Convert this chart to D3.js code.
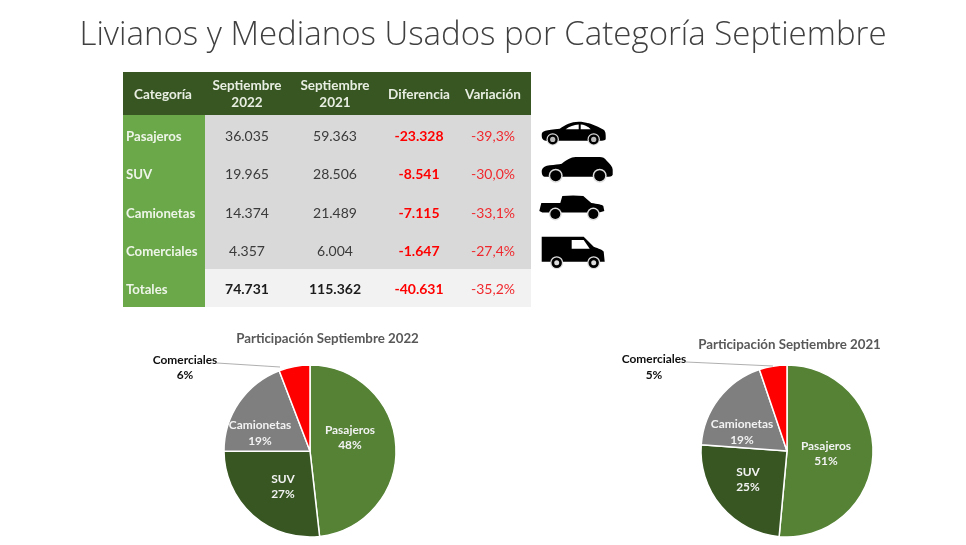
<!DOCTYPE html>
<html><head><meta charset="utf-8">
<script src="https://cdn.jsdelivr.net/npm/d3@7/dist/d3.min.js"></script>
<style>html,body{margin:0;padding:0;background:#fff}svg{display:block}text{font-family:Lato,"Open Sans",sans-serif}</style>
</head><body><svg id="c" width="966" height="545"></svg>
<script>
const titleText = "Livianos y Medianos Usados por Categoría Septiembre";
const categories = ["Pasajeros","SUV","Camionetas","Comerciales"];
const values2022 = [36035,19965,14374,4357];
const values2021 = [59363,28506,21489,6004];
const labels2022 = ["36.035","19.965","14.374","4.357","74.731"];
const labels2021 = ["59.363","28.506","21.489","6.004","115.362"];
const diffLabels = ["-23.328","-8.541","-7.115","-1.647","-40.631"];
const varLabels = ["-39,3%","-30,0%","-33,1%","-27,4%","-35,2%"];
const pct2022 = ["48%","27%","19%","6%"];
const pct2021 = ["51%","25%","19%","5%"];
const rowNames = [...categories,"Totales"];
const headers = [["Categoría"],["Septiembre","2022"],["Septiembre","2021"],["Diferencia"],["Variación"]];
const pieColors = ["#548235","#375623","#7f7f7f","#ff0000"];

const svg = d3.select("#c");
const blur = svg.append("defs").append("filter").attr("id","soft");
blur.append("feGaussianBlur").attr("stdDeviation",0.45);
const root = svg.append("g").attr("filter","url(#soft)");

root.append("text").attr("x",483).attr("y",45).attr("text-anchor","middle")
  .attr("font-size",33).attr("font-weight",300).attr("fill","#404040")
  .style("font-family","'Open Sans',sans-serif").text(titleText);

// table
const colX = d3.scaleOrdinal().domain([0,1,2,3,4]).range([163,247,335,419,493]);
const rowY = d3.scaleBand().domain(rowNames).range([117,309]);
const T = root.append("g");
T.append("rect").attr("x",123).attr("y",72).attr("width",408).attr("height",43).attr("fill","#385723");
T.append("rect").attr("x",123).attr("y",115).attr("width",82).attr("height",192).attr("fill","#6aa84a");
T.append("rect").attr("x",205).attr("y",115).attr("width",326).attr("height",154).attr("fill","#d9d9d9");
T.append("rect").attr("x",205).attr("y",269).attr("width",326).attr("height",38).attr("fill","#f2f2f2");

headers.forEach((h,i)=>{
  h.forEach((s,j)=>{
    T.append("text").attr("x",colX(i)).attr("y",94+(j-(h.length-1)/2)*17.5+4.5)
     .attr("text-anchor","middle").attr("font-size",13.5).attr("font-weight",700).attr("fill","#e8eee2").text(s);
  });
});
rowNames.forEach((r,i)=>{
  const y=rowY(r)+rowY.bandwidth()/2+4.5, tot=i===4;
  T.append("text").attr("x",126).attr("y",y).attr("font-size",13.2).attr("font-weight",700).attr("fill","#eef5e8").text(r);
  [[1,labels2022],[2,labels2021]].forEach(([c,a])=>{
    T.append("text").attr("x",colX(c)).attr("y",y).attr("text-anchor","middle").attr("font-size",14)
     .attr("font-weight",tot?700:400).attr("fill",tot?"#1a1a1a":"#3a3a3a").text(a[i]);
  });
  T.append("text").attr("x",colX(3)).attr("y",y).attr("text-anchor","middle").attr("font-size",14).attr("font-weight",700).attr("fill","#ff0000").text(diffLabels[i]);
  T.append("text").attr("x",colX(4)).attr("y",y).attr("text-anchor","middle").attr("font-size",14).attr("fill","#f0282d").text(varLabels[i]);
});

// vehicle icons (local drawing coordinates)
function wheels(g,xs,y,ring,r,hub,hubFill){
  xs.forEach(x=>{
    g.append("circle").attr("cx",x).attr("cy",y).attr("r",ring).attr("fill","#ddd");
    g.append("circle").attr("cx",x).attr("cy",y).attr("r",r).attr("fill","#000");
    if(hub) g.append("circle").attr("cx",x).attr("cy",y).attr("r",hub).attr("fill",hubFill);
  });
}
const sedan=root.append("g").attr("transform","translate(541.7,121.7)");
sedan.append("path").attr("d","M0,13 C0,9 4,8.5 18,7 C24,3 29,0 37,0 C44,0 52,3 60,7 C63,8 64,10 64,14 L64,17 C64,19 60,19 56,19 L6,19 C1,19 0,17 0,13Z");
sedan.append("path").attr("d","M24,7.5 C28,4.5 32,3 37,2.7 L37,7.5Z M39,2.7 C43,3 46,4.5 49,7.5 L39,7.5Z").attr("fill","#fff");
wheels(sedan,[11,52],17.7,6.2,5,2.6,"#bbb");
const suv=root.append("g").attr("transform","translate(541.7,156.7)");
suv.append("path").attr("d","M0,14 C1,10 4,9 8,8.5 C13,8 17,7.5 20,7 C25,3 29,0.3 34,0.2 L58,0.3 C61,0.5 63,1 65,4 C68,7 71,10 71,13 L71,18 C70,20 68,20 65,20 L4,20 C1,20 0,18 0,14Z");
wheels(suv,[14,58],19,7,5.5);
const pickup=root.append("g").attr("transform","translate(539.3,195)");
pickup.append("path").attr("d","M0,16 L2,8 L21,8 L23,1 C30,0.3 38,0.3 44,1 L52,8 C58,9 63,9.5 64,11 L65,16 L60,17.5 L3,17.5Z");
wheels(pickup,[16,54],19,6.4,5);
const van=root.append("g").attr("transform","translate(541.7,236.7)");
van.append("path").attr("d","M0,0 L42,0 L52,10 C57,12 61,13 62,15 L63,25 L0,25Z");
van.append("path").attr("d","M30,3.3 L42,3.3 L48,12 L30,12Z").attr("fill","#fff");
wheels(van,[15,52],26,6.5,5.2,2.5,"#ddd");

// pies
function pie(cx,cy,r,values,title,tx,ty,pct,lab,leader){
  const g=root.append("g");
  const arcs=d3.pie().sort(null)(values);
  const arc=d3.arc().innerRadius(0).outerRadius(r);
  g.append("g").attr("transform",`translate(${cx},${cy})`).selectAll("path").data(arcs).join("path")
    .attr("d",arc).attr("fill",(d,i)=>pieColors[i]).attr("stroke","#fff").attr("stroke-width",1.5);
  g.append("text").attr("x",tx).attr("y",ty).attr("text-anchor","middle").attr("font-size",13.3)
    .attr("font-weight",700).attr("fill","#595959").text(title);
  g.append("path").attr("d",d3.line()(leader)).attr("fill","none").attr("stroke","#a6a6a6").attr("stroke-width",0.9);
  categories.forEach((c,i)=>{
    const out=i===3, col=out?"#111":"#f2f2f2";
    const [x,y1,y2]=lab[i];
    [[c,y1],[pct[i],y2]].forEach(([s,y])=>{
      g.append("text").attr("x",x).attr("y",y).attr("text-anchor","middle").attr("font-size",11.9)
       .attr("font-weight",700).attr("fill",col).text(s);
    });
  });
}
pie(310,451,86,values2022,"Participación Septiembre 2022",327.5,343,pct2022,
  [[350,434,449],[283,483,498],[260,429,445],[185,364,379]],[[217,363],[280,367]]);
pie(787,451,86,values2021,"Participación Septiembre 2021",789.5,349,pct2021,
  [[826,450,465],[748,476,491],[742,428,444],[654,363,379]],[[686,362],[773,366]]);
</script></body></html>
